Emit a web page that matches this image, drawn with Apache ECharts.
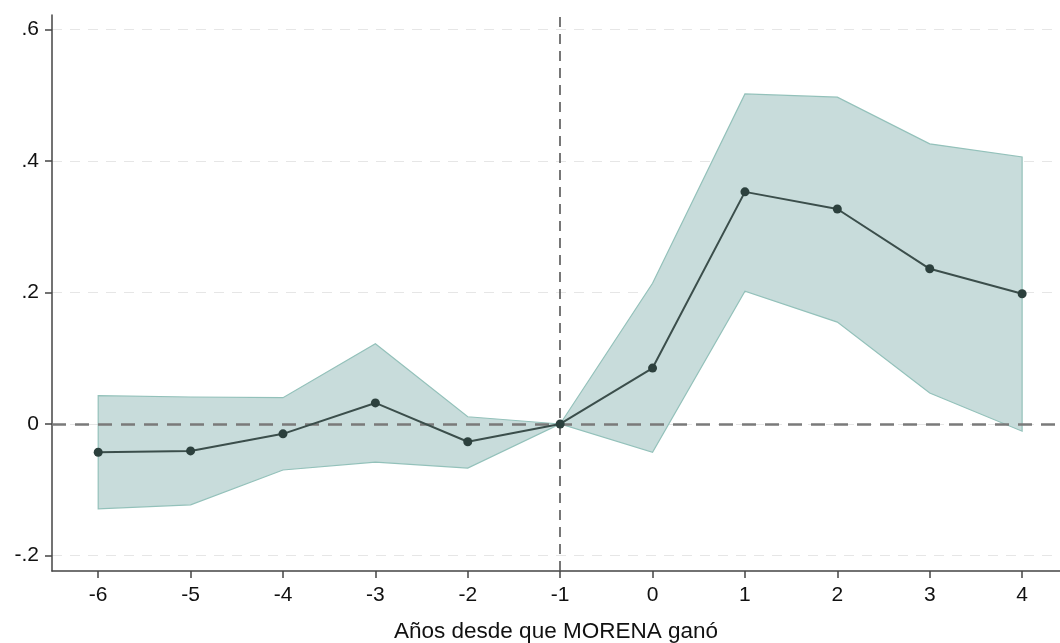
<!DOCTYPE html>
<html><head><meta charset="utf-8">
<script src="https://cdn.jsdelivr.net/npm/echarts@6/dist/echarts.min.js"></script>
<style>html,body{margin:0;padding:0;background:#fff}#c{width:1060px;height:643px}</style>
</head><body><div id="c"></div>
<script>
const years = [-6,-5,-4,-3,-2,-1,0,1,2,3,4];
const estimate = [-0.043,-0.041,-0.015,0.032,-0.027,0,0.085,0.353,0.327,0.236,0.198];
const upperCI = [0.043,0.041,0.040,0.122,0.011,0,0.214,0.502,0.497,0.426,0.406];
const lowerCI = [-0.129,-0.123,-0.070,-0.058,-0.067,0,-0.043,0.202,0.155,0.047,-0.011];
const yTicks = [-0.2,0,0.2,0.4,0.6];
const xTicks = [-6,-5,-4,-3,-2,-1,0,1,2,3,4];
const xTitle = 'Años desde que MORENA ganó';

const font = '"Liberation Sans", Arial, Helvetica, sans-serif';
const fmtY = v => { const r = Math.round(v*10)/10; if (r===0) return '0'; return (r<0?'-':'') + String(Math.abs(r)).replace(/^0/,''); };

const chart = echarts.init(document.getElementById('c'), null, {renderer:'canvas'});
chart.setOption({
  animation:false,
  backgroundColor:'#fff',
  grid:{left:52, right:0, top:15, bottom:72, containLabel:false, outerBoundsMode:'none'},
  xAxis:{
    type:'value', min:-6.5, max:4.41,
    name:xTitle, nameLocation:'middle', nameGap:49,
    nameTextStyle:{fontFamily:font, fontSize:22.5, color:'#111'},
    axisLine:{show:true, onZero:false, lineStyle:{color:'#444', width:1.5}},
    axisTick:{show:true, length:7, lineStyle:{color:'#444', width:1.5}, customValues:xTicks},
    axisLabel:{fontFamily:font, fontSize:21, color:'#111', margin:14, customValues:xTicks, formatter:v=>String(v)},
    splitLine:{show:false}
  },
  yAxis:{
    type:'value', min:-0.2236, max:0.622,
    axisLine:{show:true, onZero:false, lineStyle:{color:'#444', width:1.5}},
    axisTick:{show:true, length:7, lineStyle:{color:'#444', width:1.5}, customValues:yTicks},
    axisLabel:{fontFamily:font, fontSize:21, color:'#111', margin:13, customValues:yTicks, formatter:fmtY},
    splitLine:{show:true, lineStyle:{color:'#e6e6e6', type:[10,8], width:1.2}}
  },
  series:[
    {
      type:'custom', silent:true, z:1,
      data: years.map((x,i)=>[x, lowerCI[i], upperCI[i]]),
      renderItem:(params, api)=>{
        if (params.dataIndex !== 0) return null;
        const pts = [];
        for (let i=0;i<years.length;i++) pts.push(api.coord([years[i], upperCI[i]]));
        for (let i=years.length-1;i>=0;i--) pts.push(api.coord([years[i], lowerCI[i]]));
        return {type:'polygon', shape:{points:pts}, style:{fill:'#c8dcdb', stroke:'#93c1ba', lineWidth:1.2}};
      }
    },
    {
      type:'line', z:3,
      data: years.map((x,i)=>[x, estimate[i]]),
      symbol:'circle', symbolSize:9,
      itemStyle:{color:'#2c403d'},
      lineStyle:{color:'#3b4e4b', width:2},
      markLine:{
        silent:true, symbol:'none', label:{show:false}, z:2,
        data:[
          {yAxis:0, lineStyle:{color:'#7a7a7a', type:[14,9], width:2.5}},
          {xAxis:-1, lineStyle:{color:'#555', type:[10,7], width:1.6}}
        ]
      }
    }
  ]
});
</script></body></html>
